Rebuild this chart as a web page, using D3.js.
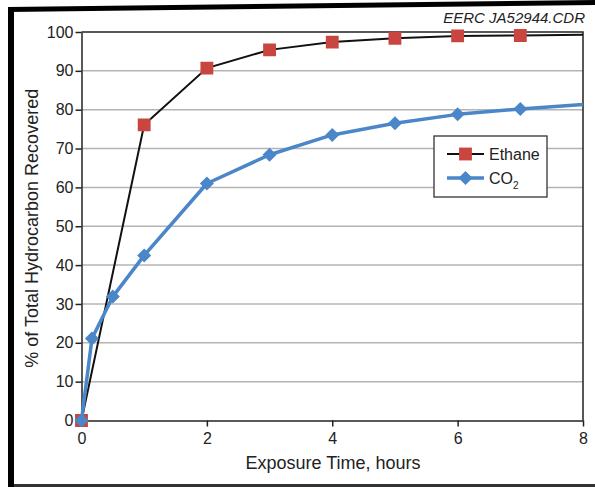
<!DOCTYPE html>
<html>
<head>
  <meta charset="utf-8">
  <style>
    body { margin: 0; background: #fff; }
    svg text { font-family: "Liberation Sans", Arial, sans-serif; fill: #222; }
    .grid line { stroke: #b4b4b4; stroke-width: 1.5px; }
    .axis .domain { stroke: #222; stroke-width: 1.5px; }
    .axis .tick line { stroke: #222; stroke-width: 1.5px; }
    .axis .tick text { font-size: 16px; fill: #222; }
  </style>
</head>
<body>
<script src="https://d3js.org/d3.v7.min.js"></script>
<script>
  // data (hours, % recovered)
  // the last point of each series lies past 8 h and is clipped at the plot edge
  var ethaneHours = [0, 1, 2, 3, 4, 5, 6, 7, 9];
  var ethaneValues = [0, 76.1, 90.7, 95.4, 97.4, 98.4, 99.0, 99.1, 99.5];
  var co2Hours = [0, 0.167, 0.5, 1, 2, 3, 4, 5, 6, 7, 9];
  var co2Values = [0, 21.1, 31.9, 42.5, 61.0, 68.4, 73.5, 76.5, 78.8, 80.2, 82.5];
  var xTicks = [0, 2, 4, 6, 8];
  var yTicks = [0, 10, 20, 30, 40, 50, 60, 70, 80, 90, 100];
  var seriesNames = ["Ethane", "CO2"];

  var W = 595, H = 487;
  var pLeft = 81.5, pRight = 583, pTop = 32, pBottom = 420.5;

  var svg = d3.select("body").append("svg")
      .attr("width", W)
      .attr("height", H);

  // outer frame (black bars at left, top, bottom)
  svg.append("rect").attr("x", 8).attr("y", 7).attr("width", 6).attr("height", 480).attr("fill", "#000");
  svg.append("path")
      .attr("d", "M8,9.5 L595,2.5")
      .attr("stroke", "#000").attr("stroke-width", 5).attr("fill", "none");
  svg.append("rect").attr("x", 14).attr("y", 484).attr("width", 581).attr("height", 3).attr("fill", "#333");

  var x = d3.scaleLinear().domain([0, 8]).range([pLeft, pRight]);
  var y = d3.scaleLinear().domain([0, 100]).range([pBottom, pTop]);

  // horizontal grid lines
  svg.append("g")
      .attr("class", "grid")
    .selectAll("line")
    .data(yTicks.filter(function (d) { return d > 0 && d < 100; }))
    .enter().append("line")
      .attr("x1", pLeft).attr("x2", pRight)
      .attr("y1", function (d) { return y(d); })
      .attr("y2", function (d) { return y(d); });

  // top and right edges of plot
  svg.append("path")
      .attr("d", "M" + pLeft + "," + pTop + " H" + pRight + " V" + pBottom)
      .attr("stroke", "#222").attr("stroke-width", 1.5).attr("fill", "none");

  var xAxis = d3.axisBottom(x).tickValues(xTicks).tickSize(6).tickSizeOuter(0).tickPadding(6);
  var yAxis = d3.axisLeft(y).tickValues(yTicks).tickSize(6).tickSizeOuter(0).tickPadding(2);

  svg.append("g")
      .attr("class", "axis")
      .attr("transform", "translate(0," + pBottom + ")")
      .call(xAxis);

  svg.append("g")
      .attr("class", "axis")
      .attr("transform", "translate(" + pLeft + ",0)")
      .call(yAxis);

  // axis titles
  svg.append("text")
      .attr("x", 333)
      .attr("y", 469)
      .attr("text-anchor", "middle")
      .style("font-size", "18px")
      .text("Exposure Time, hours");

  svg.append("text")
      .attr("transform", "translate(37.5," + ((pTop + pBottom) / 2 + 2) + ") rotate(-90)")
      .attr("text-anchor", "middle")
      .style("font-size", "18px")
      .text("% of Total Hydrocarbon Recovered");

  svg.append("text")
      .attr("x", 585)
      .attr("y", 23)
      .attr("text-anchor", "end")
      .style("font-size", "15px")
      .style("font-style", "italic")
      .text("EERC JA52944.CDR");

  svg.append("clipPath").attr("id", "plot")
    .append("rect")
      .attr("x", pLeft - 10).attr("y", pTop - 10)
      .attr("width", pRight - pLeft + 10).attr("height", pBottom - pTop + 20);

  var plot = svg.append("g").attr("clip-path", "url(#plot)");

  var line = d3.line()
      .x(function (d) { return x(d[0]); })
      .y(function (d) { return y(d[1]); });

  var ethane = d3.zip(ethaneHours, ethaneValues);
  var co2 = d3.zip(co2Hours, co2Values);

  // Ethane: thin black line, red squares
  plot.append("path")
      .attr("d", line(ethane))
      .attr("fill", "none")
      .attr("stroke", "#111")
      .attr("stroke-width", 2);

  var sq = d3.symbol().type(d3.symbolSquare).size(165);
  var dia = d3.symbol().type(d3.symbolDiamond2).size(125);

  plot.selectAll(".eth")
    .data(ethane.filter(function (d) { return d[0] <= 8; }))
    .enter().append("path")
      .attr("class", "eth")
      .attr("d", sq)
      .attr("transform", function (d) { return "translate(" + x(d[0]) + "," + y(d[1]) + ")"; })
      .attr("fill", "#c8463f");

  // CO2: thick blue line, blue diamonds
  plot.append("path")
      .attr("d", line(co2))
      .attr("fill", "none")
      .attr("stroke", "#4a86c8")
      .attr("stroke-width", 3.5)
      .attr("stroke-linejoin", "round");

  plot.selectAll(".co2")
    .data(co2.filter(function (d) { return d[0] <= 8; }))
    .enter().append("path")
      .attr("class", "co2")
      .attr("d", dia)
      .attr("transform", function (d) { return "translate(" + x(d[0]) + "," + y(d[1]) + ")"; })
      .attr("fill", "#4a86c8");

  // legend
  var lg = svg.append("g").attr("transform", "translate(434,136)");
  lg.append("rect")
      .attr("width", 113).attr("height", 61)
      .attr("fill", "#fff").attr("stroke", "#333").attr("stroke-width", 1.3);

  var rows = lg.selectAll(".row")
    .data(seriesNames)
    .enter().append("g")
      .attr("transform", function (d, i) { return "translate(0," + (18 + i * 24) + ")"; });

  rows.append("line")
      .attr("x1", 13).attr("x2", 50)
      .attr("stroke", function (d, i) { return i === 0 ? "#111" : "#4a86c8"; })
      .attr("stroke-width", function (d, i) { return i === 0 ? 2 : 3.5; });

  rows.append("path")
      .attr("transform", "translate(31.5,0)")
      .attr("d", function (d, i) { return i === 0 ? sq() : dia(); })
      .attr("fill", function (d, i) { return i === 0 ? "#c8463f" : "#4a86c8"; });

  var labels = rows.append("text")
      .attr("x", 55)
      .attr("dy", "0.35em")
      .style("font-size", "16px");
  labels.filter(function (d, i) { return i === 0; }).text(function (d) { return d; });
  labels.filter(function (d, i) { return i === 1; })
      .text("CO")
    .append("tspan")
      .attr("dy", "5")
      .style("font-size", "10px")
      .text("2");
</script>
</body>
</html>
